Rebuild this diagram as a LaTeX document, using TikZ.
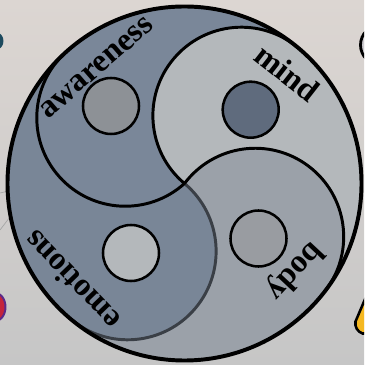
\documentclass[tikz,border=0pt]{standalone}
\usepackage{fontspec}
\setmainfont{Liberation Serif}

\definecolor{bgtop}{HTML}{DCD6D2}
\definecolor{bgmid}{HTML}{CBC9CD}
\definecolor{bgbottom}{HTML}{C6C6C6}
\definecolor{slate}{HTML}{7A8799}
\definecolor{slatetwo}{HTML}{798697}
\definecolor{mindgray}{HTML}{B4B8BB}
\definecolor{bodygray}{HTML}{9BA1A9}
\definecolor{awdot}{HTML}{8D9196}
\definecolor{minddot}{HTML}{5F6B7D}
\definecolor{emodot}{HTML}{B4B8BB}
\definecolor{bodydot}{HTML}{999CA1}
\definecolor{edgegray}{HTML}{3A3F46}

\begin{document}
\begin{tikzpicture}[x=0.025cm, y=0.025cm,
        lobe/.style={line width=2.1pt, draw=black},
        dot/.style={line width=1.8pt, draw=black},
        lobetext/.style={font=\fontsize{23}{27}\selectfont\bfseries, anchor=base, inner sep=0pt}
    ]
        % backdrop
        \fill[top color=bgtop, middle color=bgmid, bottom color=bgbottom] (-184.5,-181.5) rectangle (179.5,183.5);
        \useasboundingbox (-184.5,-181.5) rectangle (179.5,183.5);
        \begin{scope}
            \clip (-184.5,-181.5) rectangle (179.5,183.5);
            \fill[fill={rgb,255:red,29;green,74;blue,94}] (-189,142.5) ellipse[x radius=8, y radius=9];
            \draw[line width=1.4pt, draw={rgb,255:red,90;green,42;blue,138}, fill={rgb,255:red,196;green,36;blue,60}] (-191,-123.5) ellipse[x radius=12, y radius=15];
            \draw[line width=2pt, fill=bgmid] (196,138.5) circle[radius=20];
            \draw[line width=1.8pt, fill={rgb,255:red,245;green,184;blue,32}] (188,-98) -- (171,-138) to[bend right=40] (178,-150) -- (196,-150) -- cycle;
            \draw[gray!70, line width=0.5pt] (-184.5,-9.5) -- (-171.5,-6.5);
            \draw[gray!70, line width=0.5pt] (-184.5,-46.5) -- (-171.5,-29.5);
        \end{scope}

        % blades
        \fill[mindgray] (-37:177) arc[start angle=-37, end angle=50, radius=177]
            arc[start angle=50, end angle=230, radius=88.5]
            arc[start angle=143, end angle=-37, radius=88.5] -- cycle;
        \fill[slate] (50:177) arc[start angle=50, end angle=132, radius=177]
            arc[start angle=132, end angle=312, radius=88.5]
            arc[start angle=230, end angle=50, radius=88.5] -- cycle;
        \fill[slatetwo] (132:177) arc[start angle=132, end angle=230, radius=177]
            arc[start angle=230, end angle=410, radius=88.5]
            arc[start angle=312, end angle=132, radius=88.5] -- cycle;
        \fill[bodygray] (230:177) arc[start angle=230, end angle=323, radius=177]
            arc[start angle=323, end angle=503, radius=88.5]
            arc[start angle=50, end angle=-130, radius=88.5] -- cycle;

        \draw[lobe, draw=edgegray] (230:177) arc[start angle=230, end angle=410, radius=88.5];
        \draw[lobe] (132:177) arc[start angle=132, end angle=312, radius=88.5];
        \draw[lobe] (50:177) arc[start angle=50, end angle=230, radius=88.5];
        \draw[lobe] (-37:177) arc[start angle=-37, end angle=143, radius=88.5];
        \draw[line width=2.8pt] (0,0) circle[radius=177];

        % dots
        \draw[dot, fill=awdot] (-73.5,77.5) circle[radius=28];
        \draw[dot, fill=minddot] (66.2,73.8) circle[radius=28];
        \draw[dot, fill=emodot] (-53.5,-69.5) circle[radius=28];
        \draw[dot, fill=bodydot] (74,-55) circle[radius=28];

        \node[lobetext, rotate=41] (awareness) at (-83,110) {awareness};
        \node[lobetext, rotate=-38] (mind) at (96,102) {mind};
        \node[lobetext, rotate=-133] (body) at (104,-82) {body};
        \node[lobetext, rotate=134] (emotions) at (-105,-90) {emotions};
    \end{tikzpicture}
\end{document}
